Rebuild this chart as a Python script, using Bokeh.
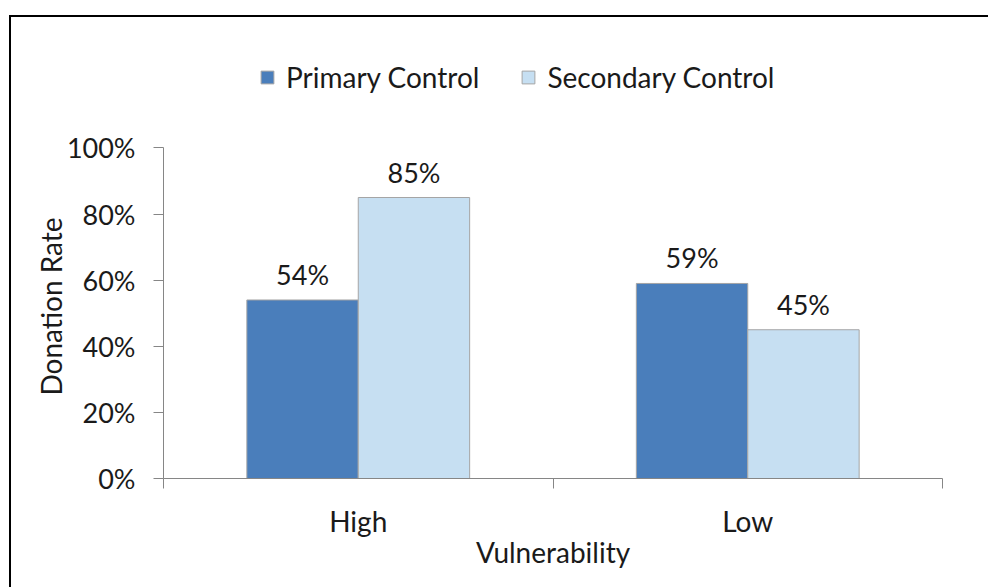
import numpy as np
from bokeh.plotting import figure
from bokeh.models import (ColumnDataSource, FixedTicker, NumeralTickFormatter,
                          Legend, LegendItem, Range1d, Title)
from bokeh.embed import file_html
from bokeh.resources import INLINE
from bokeh.core.properties import value

# Donation rate by vulnerability level
categories = ["High", "Low"]
primary = [0.54, 0.59]
secondary = [0.85, 0.45]
series_names = ["Primary Control", "Secondary Control"]
y_ticks = [0, 0.2, 0.4, 0.6, 0.8, 1.0]
y_title = "Donation Rate"
x_title = "Vulnerability"

FONT = "Lato"
FS_NUM = "27px"
FS_TXT = "28px"
TXT = "#1a1a1a"
AXIS_GRAY = "#868686"
C_PRIMARY = "#4A7EBB"
C_SECONDARY = "#C6DFF2"

# the page frame sits 9px in from the left and 15px down from the top
OFF_X, OFF_Y, BW = 9, 15, 2

# plot frame extends above 100% so the legend can sit inside it
Y_TOP = 1.334

idx = np.arange(len(categories))
bar_w = 0.286
half = bar_w / 2

src_p = ColumnDataSource(dict(x=idx + 0.5 - half, top=primary,
                              label=[f"{v:.0%}" for v in primary]))
src_s = ColumnDataSource(dict(x=idx + 0.5 + half, top=secondary,
                              label=[f"{v:.0%}" for v in secondary]))

p = figure(width=988 - OFF_X, height=587 - OFF_Y,
           output_backend="svg", toolbar_location=None,
           x_range=Range1d(0, len(categories)), y_range=Range1d(0, Y_TOP),
           min_border_left=163 - OFF_X - BW, min_border_right=48,
           min_border_top=20, min_border_bottom=111)
p.styles = {"margin-left": f"{OFF_X}px", "margin-top": f"{OFF_Y}px",
            "border-left": f"{BW}px solid black",
            "border-top": f"{BW}px solid black"}
p.outline_line_color = None
p.grid.visible = False
p.background_fill_color = "white"
p.border_fill_color = "white"

r_p = p.vbar(x="x", top="top", width=bar_w, source=src_p,
             fill_color=C_PRIMARY, line_color="#A5A5A5", line_width=1)
r_s = p.vbar(x="x", top="top", width=bar_w, source=src_s,
             fill_color=C_SECONDARY, line_color="#A5A5A5", line_width=1)

for src in (src_p, src_s):
    p.text(x="x", y="top", text="label", source=src, y_offset=-9,
           text_align="center", text_baseline="bottom",
           text_font=value(FONT), text_font_size=FS_NUM, text_color=TXT)

# y axis (line limited to 0-100%)
yax = p.yaxis[0]
yax.bounds = (0, 1)
yax.ticker = FixedTicker(ticks=y_ticks)
yax.formatter = NumeralTickFormatter(format="0%")
yax.axis_line_color = AXIS_GRAY
yax.major_tick_line_color = AXIS_GRAY
yax.major_tick_in = 0
yax.major_tick_out = 10
yax.minor_tick_line_color = None
yax.major_label_standoff = 18
yax.major_label_text_font = FONT
yax.major_label_text_font_size = FS_NUM
yax.major_label_text_color = TXT

# y title centred on the 0-100% span rather than the whole frame
p.add_layout(Title(text=y_title, align="left", vertical_align="bottom",
                   offset=83, standoff=-8, text_font=FONT,
                   text_font_size=FS_TXT, text_font_style="normal",
                   text_color=TXT), "left")

# x axis: labels at category centres, ticks at category boundaries
xax = p.xaxis[0]
xax.ticker = FixedTicker(ticks=list(idx + 0.5),
                         minor_ticks=list(range(len(categories) + 1)))
xax.major_label_overrides = {float(i + 0.5): c for i, c in enumerate(categories)}
xax.axis_line_color = AXIS_GRAY
xax.major_tick_line_color = None
xax.major_tick_in = 0
xax.major_tick_out = 0
xax.minor_tick_line_color = AXIS_GRAY
xax.minor_tick_in = 0
xax.minor_tick_out = 10
xax.major_label_standoff = 15
xax.major_label_text_font = FONT
xax.major_label_text_font_size = FS_TXT
xax.major_label_text_color = TXT
xax.axis_label = x_title
xax.axis_label_text_font = FONT
xax.axis_label_text_font_size = FS_TXT
xax.axis_label_text_font_style = "normal"
xax.axis_label_text_color = TXT
xax.axis_label_standoff = -6

legend = Legend(items=[LegendItem(label=series_names[0], renderers=[r_p]),
                       LegendItem(label=series_names[1], renderers=[r_s])],
                orientation="horizontal", location=(96, 384),
                label_text_font=FONT, label_text_font_size=FS_TXT,
                label_text_color=TXT, glyph_width=16, glyph_height=16,
                label_standoff=11, spacing=41, padding=0, margin=0,
                border_line_color=None, background_fill_alpha=0)
p.add_layout(legend, "center")

open("out.html", "w").write(file_html(p, INLINE))
